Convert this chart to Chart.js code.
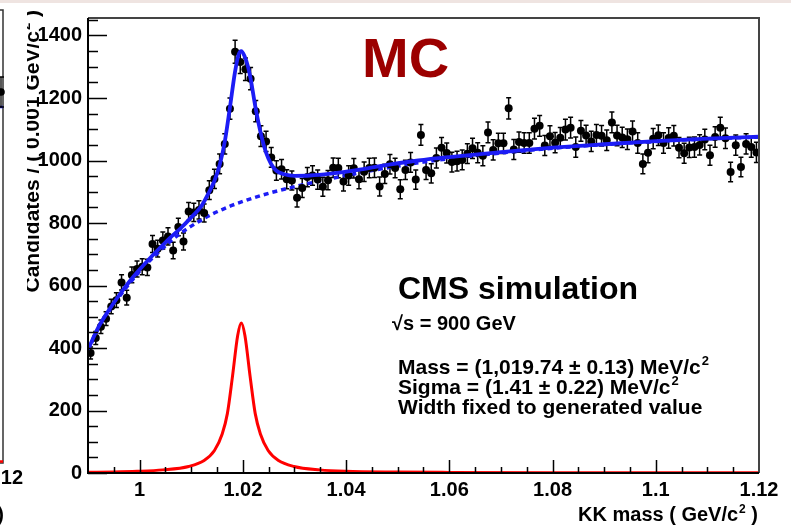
<!DOCTYPE html>
<html>
<head>
<title>KK mass - CMS simulation</title>
<script src="https://cdn.jsdelivr.net/npm/chart.js"></script>
<style>
  body { margin: 0; background: #fff; }
  canvas { display: block; }
</style>
</head>
<body>
<canvas id="kk" width="791" height="526"></canvas>
<script>
// histogram: 130 bins of 0.001 GeV starting at 0.99
const binLo = 0.99, binW = 0.001;
const counts = [
  384, 432, 468, 494, 533, 553, 610, 561, 634, 653,
  660, 658, 733, 718, 744, 757, 712, 787, 741, 837,
  834, 842, 832, 905, 941, 989, 1053, 1166, 1348, 1315,
  1292, 1262, 1158, 1078, 1061, 1010, 968, 972, 940, 936,
  881, 912, 947, 952, 939, 916, 937, 977, 976, 933,
  952, 975, 940, 964, 976, 977, 917, 957, 988, 976,
  908, 970, 994, 939, 1082, 970, 959, 1008, 1041, 1024,
  995, 998, 1002, 1022, 1039, 1025, 1015, 1090, 1034, 1055,
  1055, 1167, 1035, 1059, 1056, 1056, 1102, 1111, 1048, 1078,
  1057, 1073, 1099, 1105, 1043, 1095, 1080, 1061, 1082, 1079,
  1065, 1122, 1080, 1074, 1068, 1093, 1056, 989, 1025, 1070,
  1081, 1056, 1072, 1079, 1041, 1023, 1042, 1043, 1050, 1067,
  1017, 1075, 1105, 1071, 963, 1049, 979, 1053, 1043, 1026
];

// total fit (solid blue)
const totX = [0.990, 0.992, 0.994, 0.996, 0.998, 1.000, 1.002, 1.004, 1.006, 1.008,
              1.010, 1.012, 1.0135, 1.0145, 1.0155, 1.0165, 1.0175, 1.0185, 1.0192, 1.0197,
              1.0203, 1.0210, 1.0215, 1.0225, 1.0235, 1.0245, 1.0255, 1.0265, 1.028, 1.030,
              1.033, 1.037, 1.042, 1.048, 1.054, 1.060, 1.070, 1.080, 1.090, 1.100, 1.110, 1.120];
const totY = [395, 466, 520, 568, 612, 651, 687, 721, 754, 784,
              818, 855, 900, 935, 985, 1060, 1170, 1285, 1340, 1350,
              1335, 1300, 1262, 1165, 1085, 1025, 988, 967, 956, 951,
              952, 958, 969, 986, 1000, 1011, 1027, 1041, 1052, 1062, 1070, 1076];

// background (dotted blue)
const bgX = [0.990, 0.992, 0.994, 0.996, 0.998, 1.000, 1.002, 1.004, 1.006, 1.008,
             1.010, 1.012, 1.014, 1.016, 1.018, 1.020, 1.022, 1.025, 1.028, 1.031,
             1.035, 1.040, 1.045, 1.050, 1.055, 1.060, 1.070, 1.080, 1.090, 1.100, 1.110, 1.120];
const bgY = [392, 462, 515, 563, 606, 645, 680, 712, 742, 768,
             790, 810, 828, 843, 857, 869, 880, 895, 908, 920,
             935, 952, 968, 982, 995, 1006, 1024, 1039, 1051, 1061, 1069, 1075];

// signal (red)
const sigX = [0.990, 0.995, 0.9995, 1.0045, 1.0095, 1.0125, 1.0145, 1.016, 1.017, 1.018,
              1.019, 1.0197, 1.0204, 1.0214, 1.0224, 1.0234, 1.0249, 1.0269, 1.0299, 1.0349,
              1.0399, 1.050, 1.060, 1.080, 1.100, 1.120];
const sigY = [2.5, 3.5, 5.5, 10, 21, 40, 72, 125, 190, 310,
              440, 480, 440, 310, 190, 125, 72, 40, 21, 10,
              5.5, 3, 2, 1, 0.7, 0.5];

const xTicks = [1.0, 1.02, 1.04, 1.06, 1.08, 1.1, 1.12];
const yTicks = [0, 200, 400, 600, 800, 1000, 1200, 1400];

const FONT = '"Liberation Sans", Arial, Helvetica, sans-serif';
const BLUE = '#1c1cf5';

function pts(xs, ys) { return xs.map((x, i) => ({ x: x, y: ys[i] })); }

// draw text pieces, some as superscripts; returns end x
function supText(ctx, parts, x, y, size) {
  let cx = x;
  parts.forEach(p => {
    if (p.sup) {
      ctx.font = 'bold ' + Math.round(size * 0.62) + 'px ' + FONT;
      ctx.fillText(p.t, cx + 1, y - size * 0.42);
      cx += ctx.measureText(p.t).width + 1;
    } else {
      ctx.font = 'bold ' + size + 'px ' + FONT;
      ctx.fillText(p.t, cx, y);
      cx += ctx.measureText(p.t).width;
    }
  });
  return cx;
}
function supWidth(ctx, parts, size) {
  let w = 0;
  parts.forEach(p => {
    ctx.font = 'bold ' + (p.sup ? Math.round(size * 0.62) : size) + 'px ' + FONT;
    w += ctx.measureText(p.t).width + (p.sup ? 1 : 0);
  });
  return w;
}

const errorBars = {
  id: 'errorBars',
  beforeDatasetsDraw(chart) {
    const ctx = chart.ctx, xs = chart.scales.x, ys = chart.scales.y, a = chart.chartArea;
    ctx.save();
    ctx.beginPath();
    ctx.rect(a.left, a.top, a.right - a.left, a.bottom - a.top);
    ctx.clip();
    ctx.strokeStyle = '#000';
    ctx.lineWidth = 1.5;
    counts.forEach((c, i) => {
      const e = Math.sqrt(c);
      const px = xs.getPixelForValue(binLo + binW * (i + 0.5));
      const y1 = ys.getPixelForValue(c + e), y2 = ys.getPixelForValue(c - e);
      ctx.beginPath();
      ctx.moveTo(px, y1); ctx.lineTo(px, y2);
      ctx.moveTo(px - 2.5, y1); ctx.lineTo(px + 2.5, y1);
      ctx.moveTo(px - 2.5, y2); ctx.lineTo(px + 2.5, y2);
      ctx.stroke();
    });
    ctx.restore();
  }
};

const rootFrame = {
  id: 'rootFrame',
  afterDraw(chart) {
    const ctx = chart.ctx, xs = chart.scales.x, ys = chart.scales.y, a = chart.chartArea;
    ctx.save();

    // faint band at the very top of the crop
    ctx.fillStyle = 'rgba(226,206,200,0.55)';
    ctx.fillRect(0, 0, 791, 3);

    // ticks (ROOT style, inside the frame)
    ctx.strokeStyle = '#000';
    ctx.lineWidth = 1.5;
    ctx.beginPath();
    for (let v = 0; v <= 1450; v += 50) {
      const py = Math.round(ys.getPixelForValue(v)) + 0.5;
      const len = (v % 200 === 0) ? 19 : 10;
      ctx.moveTo(a.left, py); ctx.lineTo(a.left + len, py);
    }
    for (let k = 1; k < 26; k++) {
      const v = 0.99 + k * 0.005;
      const px = Math.round(xs.getPixelForValue(v)) + 0.5;
      const major = xTicks.some(t => Math.abs(t - v) < 1e-6);
      ctx.moveTo(px, a.bottom); ctx.lineTo(px, a.bottom - (major ? 13 : 6));
    }
    ctx.stroke();

    // frame
    ctx.lineWidth = 2;
    ctx.strokeStyle = '#444';
    ctx.beginPath();
    ctx.moveTo(a.left, a.top); ctx.lineTo(a.right, a.top); ctx.lineTo(a.right, a.bottom);
    ctx.stroke();
    ctx.strokeStyle = '#000';
    ctx.beginPath();
    ctx.moveTo(a.left, a.top); ctx.lineTo(a.left, a.bottom); ctx.lineTo(a.right, a.bottom);
    ctx.stroke();

    ctx.textBaseline = 'alphabetic';
    ctx.textAlign = 'left';

    // MC
    ctx.fillStyle = '#9c0000';
    ctx.font = 'bold 56px ' + FONT;
    ctx.fillText('MC', 362, 77);

    ctx.fillStyle = '#000';
    ctx.font = 'bold 32px ' + FONT;
    ctx.fillText('CMS simulation', 398, 299);
    ctx.font = 'bold 20px ' + FONT;
    ctx.fillText('\u221As = 900 GeV', 392, 330);
    supText(ctx, [{ t: 'Mass = (1,019.74 \u00B1 0.13) MeV/c' }, { t: '2', sup: true }], 398, 374, 21);
    supText(ctx, [{ t: 'Sigma = (1.41 \u00B1 0.22) MeV/c' }, { t: '2', sup: true }], 398, 394, 21);
    ctx.font = 'bold 21px ' + FONT;
    ctx.fillText('Width fixed to generated value', 398, 414);

    // x axis title, right aligned
    const xt = [{ t: 'KK mass ( GeV/c' }, { t: '2', sup: true }, { t: ' )' }];
    const xw = supWidth(ctx, xt, 20);
    supText(ctx, xt, 758 - xw, 521, 20);

    // y axis title, rotated
    const yt = [{ t: 'Candidates / ( 0.001 GeV/c' }, { t: '2', sup: true }, { t: ' )' }];
    ctx.save();
    ctx.translate(39, 10);
    ctx.rotate(-Math.PI / 2);
    const yw = supWidth(ctx, yt, 21);
    supText(ctx, yt, -yw, 0, 21);
    ctx.restore();

    // neighbouring panel on the left covers part of the title
    ctx.fillStyle = '#fff';
    ctx.fillRect(0, 3, 27, 523);
    ctx.strokeStyle = '#333';
    ctx.lineWidth = 1.5;
    ctx.beginPath();
    ctx.moveTo(0, 10); ctx.lineTo(3, 10); ctx.lineTo(3, 463); ctx.lineTo(0, 463);
    ctx.stroke();
    ctx.strokeStyle = '#ff0000';
    ctx.lineWidth = 2.5;
    ctx.beginPath(); ctx.moveTo(0, 461.5); ctx.lineTo(3, 461.5); ctx.stroke();
    ctx.strokeStyle = BLUE;
    ctx.beginPath(); ctx.moveTo(0, 107); ctx.lineTo(3, 107); ctx.stroke();
    ctx.strokeStyle = '#000';
    ctx.lineWidth = 1.3;
    ctx.beginPath();
    ctx.moveTo(1, 77); ctx.lineTo(1, 107);
    ctx.moveTo(-2, 77); ctx.lineTo(4, 77);
    ctx.moveTo(-2, 107); ctx.lineTo(4, 107);
    ctx.stroke();
    ctx.fillStyle = '#000';
    ctx.beginPath(); ctx.arc(1, 92, 3.8, 0, Math.PI * 2); ctx.fill();
    ctx.font = 'bold 20px ' + FONT;
    ctx.textAlign = 'right';
    ctx.fillText('1.12', 23, 484);
    ctx.fillText(')', 4, 521);

    ctx.restore();
  }
};

const tickFont = { family: FONT, size: 20, weight: 'bold' };

new Chart(document.getElementById('kk'), {
  type: 'scatter',
  data: {
    datasets: [
      { label: 'fit', data: pts(totX, totY), showLine: true, borderColor: BLUE, borderWidth: 3.8,
        pointRadius: 0, cubicInterpolationMode: 'monotone' },
      { label: 'data', data: counts.map((c, i) => ({ x: binLo + binW * (i + 0.5), y: c })),
        pointRadius: 4, backgroundColor: '#000', borderWidth: 0 },
      { label: 'background', data: pts(bgX, bgY), showLine: true, borderColor: BLUE, borderWidth: 3.5,
        borderDash: [5, 4], pointRadius: 0, cubicInterpolationMode: 'monotone' },
      { label: 'signal', data: pts(sigX, sigY), showLine: true, borderColor: '#ff0000', borderWidth: 3,
        pointRadius: 0, cubicInterpolationMode: 'monotone' }
    ]
  },
  options: {
    responsive: false,
    animation: false,
    events: [],
    layout: { padding: { top: 7, right: 32, left: 0, bottom: 0 } },
    plugins: { legend: { display: false }, tooltip: { enabled: false } },
    scales: {
      x: {
        type: 'linear', min: 0.99, max: 1.12,
        afterBuildTicks: s => { s.ticks = xTicks.map(v => ({ value: v })); },
        afterFit: s => { s.height = 53; },
        grid: { display: false, drawTicks: false },
        border: { display: false },
        ticks: { padding: 5, font: tickFont, color: '#000', maxRotation: 0, autoSkip: false,
                 callback: v => String(parseFloat(Number(v).toFixed(2))) }
      },
      y: {
        type: 'linear', min: 0, max: 1456,
        afterBuildTicks: s => { s.ticks = yTicks.map(v => ({ value: v })); },
        afterFit: s => { s.width = 88; },
        grid: { display: false, drawTicks: false },
        border: { display: false },
        ticks: { padding: 6, font: tickFont, color: '#000', autoSkip: false,
                 callback: v => String(v) }
      }
    }
  },
  plugins: [errorBars, rootFrame]
});
</script>
</body>
</html>
